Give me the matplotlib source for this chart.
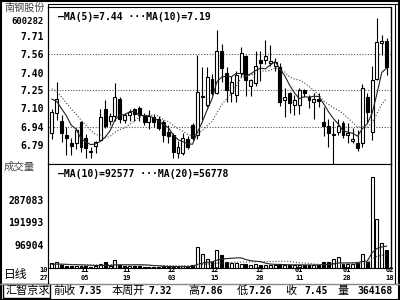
import numpy as np
import matplotlib
matplotlib.use('Agg')
import matplotlib.pyplot as plt
from matplotlib.patches import Rectangle
from matplotlib.transforms import blended_transform_factory

plt.rcParams['font.family'] = ['DejaVu Sans Mono', 'Noto Sans CJK SC']

# daily candles, 10/27 .. 02/18
opens = [6.89, 7.06, 6.99, 6.87, 6.80, 6.80, 6.98, 6.85, 6.74, 6.78,
         6.83, 7.09, 6.99, 7.03, 7.18, 7.00, 7.04, 7.09, 7.10, 7.04,
         6.98, 7.02, 7.01, 6.98, 6.90, 6.87, 6.72, 6.72, 6.84, 6.96,
         6.87, 7.19, 7.13, 7.35, 7.23, 7.58, 7.40, 7.23, 7.21, 7.40,
         7.54, 7.29, 7.31, 7.51, 7.51, 7.48, 7.46, 7.45, 7.17, 7.23,
         7.13, 7.13, 7.25, 7.19, 7.15, 7.18, 6.98, 6.95, 6.87, 6.90,
         6.97, 6.87, 6.82, 6.80, 6.80, 7.19, 6.90, 7.35, 7.65, 7.67]
highs = [7.09, 7.32, 7.04, 6.94, 6.85, 6.93, 6.99, 6.88, 6.77, 6.82,
         7.09, 7.17, 7.06, 7.31, 7.19, 7.06, 7.09, 7.10, 7.12, 7.06,
         7.08, 7.05, 7.03, 7.00, 6.96, 6.89, 6.82, 6.89, 6.86, 6.97,
         7.55, 7.45, 7.45, 7.39, 7.76, 7.64, 7.45, 7.37, 7.41, 7.62,
         7.55, 7.35, 7.58, 7.58, 7.68, 7.63, 7.52, 7.48, 7.27, 7.24,
         7.21, 7.27, 7.26, 7.21, 7.23, 7.23, 7.11, 7.01, 6.99, 7.01,
         6.99, 6.97, 6.93, 6.91, 7.30, 7.23, 7.46, 7.86, 7.72, 7.69]
lows = [6.84, 7.00, 6.81, 6.70, 6.70, 6.75, 6.73, 6.68, 6.68, 6.72,
        6.82, 6.93, 6.96, 6.99, 6.97, 6.97, 6.99, 6.99, 6.99, 6.96,
        6.92, 6.94, 6.91, 6.81, 6.80, 6.68, 6.68, 6.70, 6.75, 6.83,
        6.84, 7.00, 7.11, 7.21, 7.22, 7.32, 7.15, 7.15, 7.15, 7.36,
        7.20, 7.20, 7.29, 7.33, 7.47, 7.46, 7.41, 7.12, 7.02, 7.06,
        7.04, 7.05, 7.19, 7.10, 7.01, 7.11, 6.86, 6.77, 6.60, 6.87,
        6.85, 6.80, 6.80, 6.74, 6.77, 6.97, 6.83, 7.34, 7.55, 7.38]
closes = [7.07, 7.18, 6.89, 6.85, 6.78, 6.91, 6.77, 6.76, 6.73, 6.81,
          7.02, 6.95, 7.03, 7.19, 7.01, 7.04, 7.07, 7.05, 7.04, 6.98,
          7.03, 6.98, 6.93, 6.87, 6.86, 6.73, 6.77, 6.85, 6.77, 6.85,
          7.24, 7.20, 7.36, 7.23, 7.58, 7.44, 7.25, 7.32, 7.38, 7.57,
          7.34, 7.34, 7.46, 7.48, 7.54, 7.50, 7.49, 7.15, 7.19, 7.14,
          7.17, 7.25, 7.23, 7.17, 7.18, 7.16, 6.95, 6.89, 6.88, 6.95,
          6.87, 6.89, 6.84, 6.76, 7.27, 7.07, 7.34, 7.66, 7.67, 7.45]
volumes = [20000, 25000, 11000, 7000, 7000, 10000, 7000, 7000, 5000, 9000,
           18000, 25000, 10000, 32000, 12000, 9000, 8000, 7000, 7000, 6000,
           6000, 5000, 5000, 8000, 5000, 6000, 5000, 7000, 6000, 14000,
           89000, 61000, 40000, 25000, 75000, 54000, 25000, 21000, 21000, 18000,
           15000, 14000, 15000, 12000, 13000, 12000, 12000, 18000, 12000, 12000,
           13000, 13000, 12000, 12000, 13000, 13000, 25000, 25000, 40000, 45000,
           15000, 15000, 15000, 20000, 61000, 25000, 383000, 205000, 105000, 75000]

# closes / volumes before the window (for the moving averages)
prev_closes = [7.40, 7.38, 7.35, 7.30, 7.32, 7.28, 7.20, 7.15, 7.18]
prev_volumes = [15000] * 19

date_pos = [-1.6, 6.8, 15.5, 24.7, 33.6, 42.9, 51.0, 60.8, 69.7]
date_months = ['10', '11', '11', '12', '12', '12', '01', '01', '02']
date_days = ['27', '05', '19', '03', '15', '28', '11', '28', '18']

price_ticks = [7.71, 7.56, 7.40, 7.25, 7.10, 6.94, 6.79]
vol_ticks = [96904, 191993, 287083]

n = len(closes)
x = np.arange(n)
o = np.array(opens); c = np.array(closes)
h = np.array(highs); l = np.array(lows)
v = np.array(volumes)

allc = np.concatenate([prev_closes, c])
allv = np.concatenate([prev_volumes, v])
def ma(a, k):
    out = np.convolve(a, np.ones(k) / k, mode='valid')
    return out[-n:]
ma5 = ma(allc, 5)
ma10 = ma(allc, 10)
vma10 = ma(allv, 10)
vma20 = ma(allv, 20)

fig = plt.figure(figsize=(4, 3), dpi=100)
W, H = 400, 300
def rect(l_, t_, r_, b_):
    return [l_ / W, 1 - b_ / H, (r_ - l_) / W, (b_ - t_) / H]

ax = fig.add_axes(rect(48, 7, 391, 164))
axv = fig.add_axes(rect(48, 164, 391, 268))

up = c >= o
bw = 0.6
for i in range(n):
    ax.vlines(x[i], l[i], h[i], color='black', lw=0.8, zorder=2)
    bot = min(o[i], c[i]); hgt = max(abs(c[i] - o[i]), 0.004)
    ax.add_patch(Rectangle((x[i] - bw / 2, bot), bw, hgt,
                           facecolor='white' if up[i] else 'black',
                           edgecolor='black', lw=0.8, zorder=3))
    axv.add_patch(Rectangle((x[i] - bw / 2, 0), bw, v[i],
                            facecolor='white' if up[i] else 'black',
                            edgecolor='black', lw=0.8, zorder=3))

ax.plot(x, ma5, color='#222222', lw=0.8, zorder=4)
ax.plot(x, ma10, color='#444444', lw=0.8, ls=':', zorder=4)
axv.plot(x, vma10, color='#222222', lw=0.8, zorder=4)
axv.plot(x, vma20, color='#444444', lw=0.8, ls=':', zorder=4)

ax.set_xlim(-0.8, 69.9)
axv.set_xlim(-0.8, 69.9)
ax.set_ylim(6.626, 7.956)
axv.set_ylim(0, 438000)

for t in [7.56, 7.25, 6.94]:
    ax.axhline(t, color='#555555', lw=0.8, ls=(0, (1, 1.5)), zorder=1)

ax.set_yticks(price_ticks)
ax.set_yticklabels(['%.2f' % t for t in price_ticks], fontsize=7, fontweight='bold')
axv.set_yticks(vol_ticks)
axv.set_yticklabels([str(t) for t in vol_ticks], fontsize=7, fontweight='bold')
ax.set_xticks([])
axv.set_xticks([])
for a in (ax, axv):
    a.tick_params(length=0, pad=3)
    for s in a.spines.values():
        s.set_linewidth(0.8)
    a.spines['right'].set_linewidth(1.0)

# date labels: month over day
tr = blended_transform_factory(axv.transData, fig.transFigure)
for p, m, d in zip(date_pos, date_months, date_days):
    axv.text(p, 1 - 270.5 / H, m, transform=tr, ha='center', va='center',
             fontsize=5, fontweight='bold', clip_on=False)
    axv.text(p, 1 - 278.5 / H, d, transform=tr, ha='center', va='center',
             fontsize=5, fontweight='bold', clip_on=False)

ax.text(0.03, 0.965, '—MA(5)=7.44 ···MA(10)=7.19', transform=ax.transAxes,
        fontsize=7, fontweight='bold', va='top')
axv.text(0.03, 0.95, '—MA(10)=92577 ···MA(20)=56778', transform=axv.transAxes,
         fontsize=7, fontweight='bold', va='top')

fig.text(4 / W, 1 - 3 / H, '南钢股份', fontsize=7.3, color='#444444', va='top',
         family='Noto Sans CJK SC')
fig.text(44 / W, 1 - 17 / H, '600282', fontsize=6.5, fontweight='bold', va='top', ha='right')
fig.text(4 / W, 1 - 162 / H, '成交量', fontsize=7.5, color='#444444', va='top',
         family='Noto Sans CJK SC')
fig.text(4 / W, 1 - 268 / H, '日线', fontsize=8.5, va='top', family='Noto Sans CJK SC')

# bottom info bar
fig.add_artist(plt.Line2D([0, 1], [1 - 283.5 / H] * 2, color='#888888', lw=1))
fig.add_artist(Rectangle((3 / W, 1 - 298 / H), 47 / W, 14 / H, fill=False,
                         edgecolor='black', lw=1, transform=fig.transFigure))
fig.text(5 / W, 1 - 291 / H, '汇智京求', fontsize=8, va='center', family='Noto Sans CJK SC')
bar_items = [(53, '前收', 'l'), (102, '7.35', 'r'), (112, '本周开', 'l'),
             (172, '7.32', 'r'), (188, '高', 'l'), (223, '7.86', 'r'),
             (237, '低', 'l'), (272, '7.26', 'r'), (285, '收', 'l'),
             (328, '7.45', 'r'), (337, '量', 'l'), (393, '364168', 'r')]
for px, s, al in bar_items:
    if al == 'l':
        fig.text(px / W, 1 - 291 / H, s, fontsize=8, va='center', family='Noto Sans CJK SC')
    else:
        fig.text(px / W, 1 - 291 / H, s, fontsize=7, fontweight='bold', va='center', ha='right')

# outer frame lines
fig.add_artist(Rectangle((0.5 / W, 0.5 / H), 398.5 / W, 298.5 / H, fill=False,
                         edgecolor='black', lw=1.5, transform=fig.transFigure))
fig.add_artist(plt.Line2D([394.5 / W] * 2, [1 - 4 / H, 1 - 283 / H], color='black', lw=0.8))
fig.add_artist(plt.Line2D([48 / W, 397 / W], [1 - 4 / H] * 2, color='black', lw=0.8))
fig.add_artist(plt.Line2D([48 / W] * 2, [1 - 4 / H, 1 - 283 / H], color='black', lw=0.8))

fig.savefig('out.png', dpi=100)
